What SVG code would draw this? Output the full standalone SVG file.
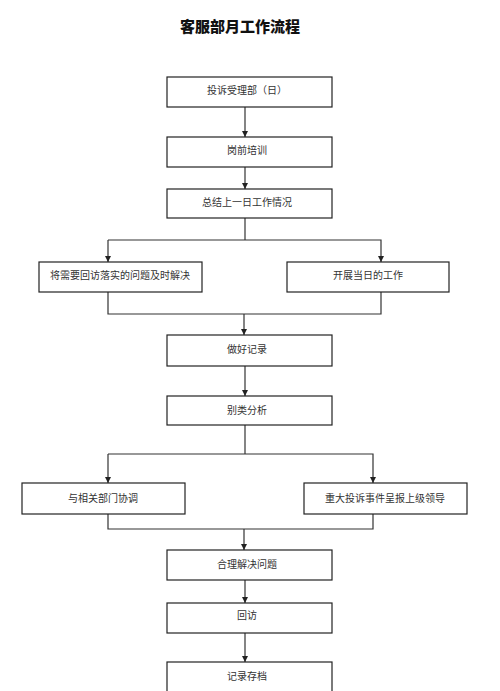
<svg xmlns="http://www.w3.org/2000/svg" width="500" height="691" viewBox="0 0 500 691">
<style>
.box{fill:#fff;stroke:#222;stroke-width:1.2}
.t{font-family:"Noto Sans CJK SC","Noto Sans",sans-serif;font-size:10px;fill:#333;text-anchor:middle;dominant-baseline:central}
.title{font-family:"Noto Sans CJK SC","Noto Sans",sans-serif;font-size:15px;font-weight:900;fill:#111;text-anchor:middle;dominant-baseline:central}
.c{fill:none;stroke:#333;stroke-width:1.2}
</style>
<defs>
<marker id="ah" viewBox="0 0 10 10" refX="10" refY="5" markerWidth="6" markerHeight="6" markerUnits="userSpaceOnUse" orient="auto">
<path d="M0,0 L10,5 L0,10 z" fill="#222"/>
</marker>
</defs>
<rect width="500" height="691" fill="#fff"/>
<text class="title" x="240" y="25">客服部月工作流程</text>
<g id="connectors">
<path class="c" d="M245,107 V137" marker-end="url(#ah)"/>
<path class="c" d="M245,167 V189" marker-end="url(#ah)"/>
<path class="c" d="M245,218 V240"/>
<path class="c" d="M108,240 H381 V262" marker-end="url(#ah)"/>
<path class="c" d="M108,240 V262" marker-end="url(#ah)"/>
<path class="c" d="M108,292 V314 H381 V292"/>
<path class="c" d="M244,314 V335" marker-end="url(#ah)"/>
<path class="c" d="M245,366 V396" marker-end="url(#ah)"/>
<path class="c" d="M245,425 V454"/>
<path class="c" d="M108,454 H373 V483" marker-end="url(#ah)"/>
<path class="c" d="M108,454 V483" marker-end="url(#ah)"/>
<path class="c" d="M108,514 V529 H373 V514"/>
<path class="c" d="M244,529 V550" marker-end="url(#ah)"/>
<path class="c" d="M245,580 V603" marker-end="url(#ah)"/>
<path class="c" d="M245,633 V662" marker-end="url(#ah)"/>
</g>
<g id="n1"><rect class="box" x="167" y="77" width="165" height="30"/><text class="t" x="247" y="89">投诉受理部（日）</text></g>
<g id="n2"><rect class="box" x="167" y="137" width="165" height="30"/><text class="t" x="247" y="149">岗前培训</text></g>
<g id="n3"><rect class="box" x="167" y="189" width="165" height="29"/><text class="t" x="247" y="201">总结上一日工作情况</text></g>
<g id="n4"><rect class="box" x="39" y="262" width="163" height="30"/><text class="t" x="120" y="274">将需要回访落实的问题及时解决</text></g>
<g id="n5"><rect class="box" x="287" y="262" width="162" height="30"/><text class="t" x="368" y="274">开展当日的工作</text></g>
<g id="n6"><rect class="box" x="167" y="335" width="165" height="31"/><text class="t" x="247" y="348">做好记录</text></g>
<g id="n7"><rect class="box" x="167" y="396" width="165" height="29"/><text class="t" x="247" y="409">别类分析</text></g>
<g id="n8"><rect class="box" x="22" y="483" width="163" height="31"/><text class="t" x="103" y="497">与相关部门协调</text></g>
<g id="n9"><rect class="box" x="304" y="483" width="163" height="31"/><text class="t" x="385" y="497">重大投诉事件呈报上级领导</text></g>
<g id="n10"><rect class="box" x="167" y="550" width="165" height="30"/><text class="t" x="247" y="563">合理解决问题</text></g>
<g id="n11"><rect class="box" x="167" y="603" width="165" height="30"/><text class="t" x="247" y="614">回访</text></g>
<g id="n12"><rect class="box" x="167" y="662" width="165" height="40"/><text class="t" x="247" y="675">记录存档</text></g>
</svg>
